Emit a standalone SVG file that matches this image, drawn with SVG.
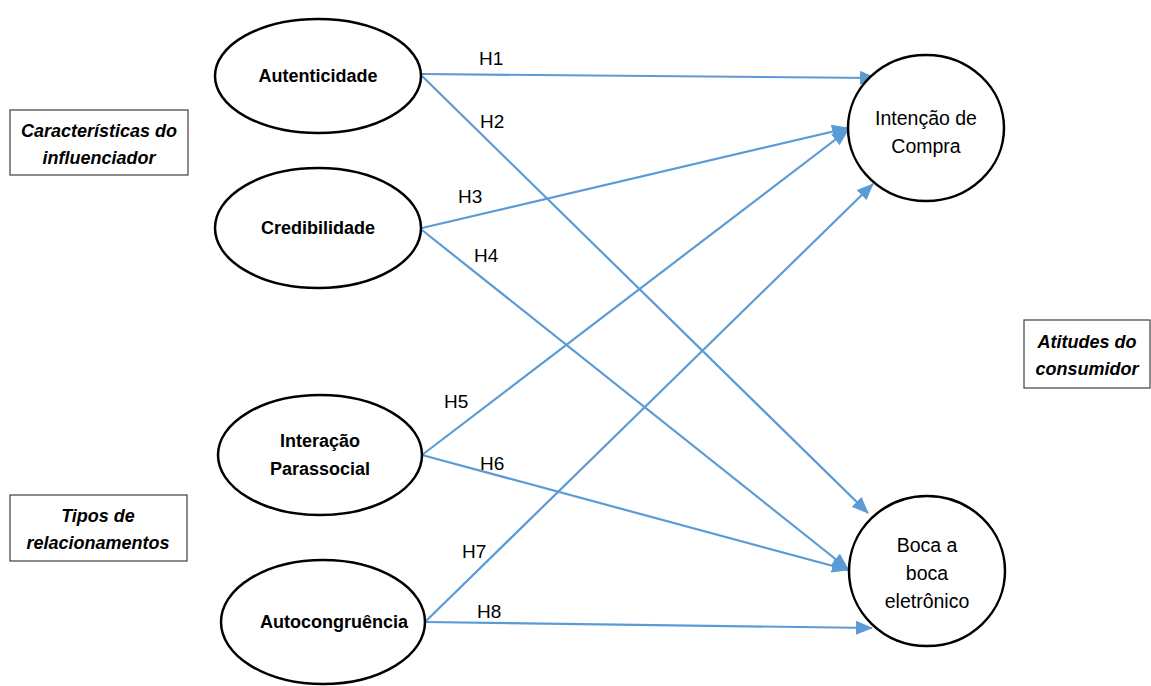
<svg xmlns="http://www.w3.org/2000/svg" width="1151" height="686" viewBox="0 0 1151 686">
<style>
.node ellipse{fill:#fff;stroke:#000;stroke-width:2.5}
.nt{font-family:"Liberation Sans",Arial,sans-serif;font-weight:bold;font-size:18px;text-anchor:middle;fill:#000}
.rt{font-family:"Liberation Sans",Arial,sans-serif;font-size:19.5px;text-anchor:middle;fill:#000}
.lab{font-family:"Liberation Sans",Arial,sans-serif;font-size:19px;fill:#000}
.box rect{fill:#fff;stroke:#404040;stroke-width:1.2}
.bt{font-family:"Liberation Sans",Arial,sans-serif;font-weight:bold;font-style:italic;font-size:18px;text-anchor:middle;fill:#000}
.conn line{stroke:#5b9bd5;stroke-width:2.2;marker-end:url(#ah)}
</style>
<defs>
<marker id="ah" markerUnits="userSpaceOnUse" markerWidth="18" markerHeight="14" refX="16" refY="7" orient="auto">
<path d="M0,0 L17,7 L0,14 Z" fill="#5b9bd5"/>
</marker>
</defs>
<rect width="1151" height="686" fill="#fff"/>
<g id="box-caracteristicas" class="box"><rect x="10" y="110" width="178" height="65"/><text class="bt" x="99" y="137">Características do</text><text class="bt" x="99" y="164">influenciador</text></g>
<g id="box-tipos" class="box"><rect x="10" y="495" width="177" height="66"/><text class="bt" x="98" y="522">Tipos de</text><text class="bt" x="98" y="549">relacionamentos</text></g>
<g id="box-atitudes" class="box"><rect x="1024" y="320" width="126" height="68"/><text class="bt" x="1087" y="348">Atitudes do</text><text class="bt" x="1087" y="375">consumidor</text></g>
<g class="conn" id="connectors">
<line x1="422" y1="74" x2="876" y2="78"/>
<line x1="422" y1="76" x2="868" y2="513"/>
<line x1="422" y1="228" x2="848" y2="128"/>
<line x1="422" y1="230" x2="848" y2="569"/>
<line x1="422" y1="455" x2="848" y2="130"/>
<line x1="422" y1="455" x2="848" y2="570"/>
<line x1="425" y1="622" x2="873" y2="184"/>
<line x1="425" y1="622" x2="872" y2="628"/>
</g>
<g id="labels">
<text class="lab" x="479" y="65">H1</text>
<text class="lab" x="480" y="128">H2</text>
<text class="lab" x="458" y="203">H3</text>
<text class="lab" x="474" y="262">H4</text>
<text class="lab" x="444" y="408">H5</text>
<text class="lab" x="480" y="470">H6</text>
<text class="lab" x="462" y="558">H7</text>
<text class="lab" x="477" y="618">H8</text>
</g>
<g id="node-autenticidade" class="node"><ellipse cx="318" cy="76" rx="103" ry="57"/><text class="nt" x="318" y="82">Autenticidade</text></g>
<g id="node-credibilidade" class="node"><ellipse cx="318" cy="228" rx="103" ry="60"/><text class="nt" x="318" y="234">Credibilidade</text></g>
<g id="node-interacao" class="node"><ellipse cx="320" cy="455" rx="102" ry="60"/><text class="nt" x="320" y="447">Interação</text><text class="nt" x="320" y="475">Parassocial</text></g>
<g id="node-autocongruencia" class="node"><ellipse cx="323" cy="622" rx="102" ry="62"/><text class="nt" x="334" y="628">Autocongruência</text></g>
<g id="node-intencao" class="node"><ellipse cx="926" cy="128" rx="78" ry="73"/><text class="rt" x="926" y="125">Intenção de</text><text class="rt" x="926" y="153">Compra</text></g>
<g id="node-boca" class="node"><ellipse cx="927" cy="571" rx="78" ry="75"/><text class="rt" x="927" y="552">Boca a</text><text class="rt" x="927" y="580">boca</text><text class="rt" x="927" y="608">eletrônico</text></g>
</svg>
